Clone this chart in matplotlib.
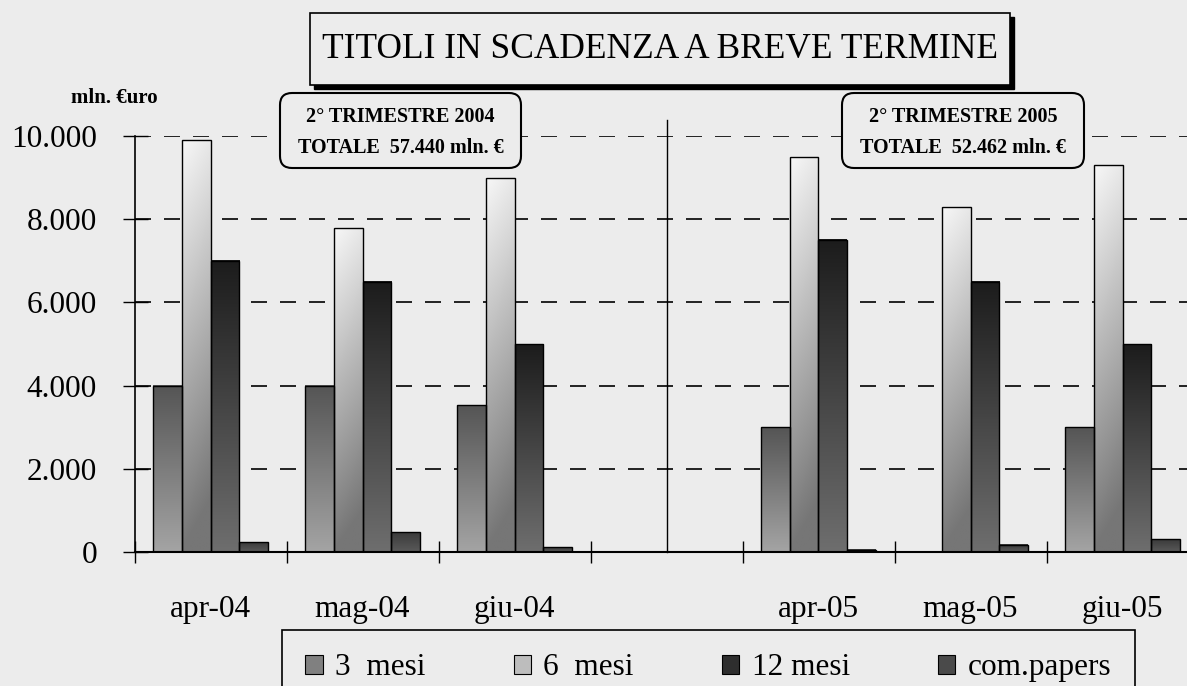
import matplotlib
matplotlib.use("Agg")
import matplotlib.pyplot as plt
import numpy as np
from matplotlib.patches import Rectangle, FancyBboxPatch, Patch
from matplotlib.colors import LinearSegmentedColormap
from matplotlib.transforms import IdentityTransform

plt.rcParams['font.family'] = ['Liberation Serif', 'DejaVu Serif']

# ---------------- data ----------------
categories = ["apr-04", "mag-04", "giu-04", "", "apr-05", "mag-05", "giu-05"]
series_names = ["3  mesi", "6  mesi", "12 mesi", "com.papers"]
mesi_3 = [4000, 4000, 3530, 0, 3000, 0, 3000]
mesi_6 = [9900, 7800, 9000, 0, 9500, 8300, 9300]
mesi_12 = [7000, 6500, 5000, 0, 7500, 6500, 5000]
com_papers = [240, 480, 120, 0, 60, 170, 310]
y_ticks = [0, 2000, 4000, 6000, 8000, 10000]
y_tick_labels = ["0", "2.000", "4.000", "6.000", "8.000", "10.000"]
title = "TITOLI IN SCADENZA A BREVE TERMINE"
unit_label = "mln. \u20acuro"
box_2004 = ["2\u00b0 TRIMESTRE 2004", "TOTALE  57.440 mln. \u20ac"]
box_2005 = ["2\u00b0 TRIMESTRE 2005", "TOTALE  52.462 mln. \u20ac"]

# ---------------- style ----------------
W, H = 1187, 686
BG = "#ececec"
# (bottom colour, top colour) gradients per series
grad_colors = [("#a4a4a4", "#555555"),
               ("#767676", "#f7f7f7"),
               ("#6e6e6e", "#1c1c1c"),
               ("#5a5a5a", "#3a3a3a")]
legend_colors = ["#808080", "#bdbdbd", "#2e2e2e", "#4a4a4a"]

fig = plt.figure(figsize=(W / 100, H / 100), dpi=100, facecolor=BG)
T = IdentityTransform()


def py(v):
    return H - v


ax = fig.add_axes([134.5 / W, (H - 552) / H, 1064 / W, 416 / H])
ax.set_facecolor(BG)

series = [mesi_3, mesi_6, mesi_12, com_papers]
x = np.arange(len(categories))
bw = 0.19
offsets = (np.arange(4) - 1.5) * bw

for k, vals in enumerate(series):
    bars = ax.bar(x + offsets[k], vals, width=bw, facecolor="none",
                  edgecolor="black", linewidth=1.0, zorder=4)
    cmap = LinearSegmentedColormap.from_list("g%d" % k, list(grad_colors[k]))
    for b in bars:
        h = b.get_height()
        if h <= 0:
            continue
        x0 = b.get_x()
        w = b.get_width()
        vert = np.linspace(0, 1, 128).reshape(-1, 1)
        horiz = np.linspace(0, 1, 16).reshape(1, -1)
        g = vert * np.ones_like(horiz)
        if k == 1:
            g = np.clip(g - 0.12 * horiz, 0, 1)
        ax.imshow(g, cmap=cmap, vmin=0, vmax=1, origin="lower",
                  extent=[x0, x0 + w, 0, h], aspect="auto",
                  interpolation="bilinear", zorder=3)

ax.set_xlim(-0.5, len(categories) - 0.5)
ax.set_ylim(0, 10000)

# separator line between the two quarters
ax.plot([3, 3], [0, 10380], color="black", lw=1.0, clip_on=False, zorder=5)

# grid
ax.set_axisbelow(True)
ax.yaxis.grid(True, color="black", lw=1.2, linestyle=(0, (9.6, 7.8)))

# spines
for s in ["top", "right"]:
    ax.spines[s].set_visible(False)
ax.spines["left"].set_linewidth(1.2)
ax.spines["bottom"].set_linewidth(1.5)
ax.spines["bottom"].set_zorder(6)

# y ticks
ax.set_yticks(y_ticks)
ax.set_yticklabels(y_tick_labels)
ax.tick_params(axis="y", direction="inout", length=18, width=1.0, pad=18,
               labelsize=22.5)

# x ticks: boundaries as marks, category names in between
ax.set_xticks(np.arange(-0.5, len(categories), 1.0))
ax.set_xticklabels([])
ax.set_xticks(x, minor=True)
ax.set_xticklabels(categories, minor=True)
ax.tick_params(axis="x", which="major", direction="inout", length=16.5, width=1.0)
ax.tick_params(axis="x", which="minor", length=0, pad=31, labelsize=22.5)

# legend
handles = [Patch(facecolor=c, edgecolor="black", linewidth=0.8, label=n)
           for c, n in zip(legend_colors, series_names)]
leg_left, leg_right, leg_top = 282, 1135, 630
leg = ax.legend(handles=handles, ncol=4, loc="upper left", mode="expand",
                bbox_to_anchor=(leg_left / W, (H - leg_top - 80) / H,
                                (leg_right - leg_left) / W, 80 / H),
                bbox_transform=fig.transFigure, fontsize=22.5,
                frameon=True, fancybox=False, edgecolor="black",
                facecolor=BG, framealpha=1, borderpad=0.75,
                handlelength=0.55, handleheight=0.6, handletextpad=0.4,
                columnspacing=2.0, borderaxespad=0)
leg.get_frame().set_linewidth(1.2)

# title box with shadow
tl, tr, tt, tb = 310, 1010, 13, 85
fig.add_artist(Rectangle((tl + 4, py(tb + 4)), tr - tl, tb - tt,
                         transform=T, facecolor="black", edgecolor="black"))
fig.add_artist(Rectangle((tl, py(tb)), tr - tl, tb - tt, transform=T,
                         facecolor=BG, edgecolor="black", linewidth=1.2))
fig.text((tl + tr) / 2, py(49), title, transform=T, ha="center",
         va="center", fontsize=25.5)

# unit label
fig.text(114, py(98), unit_label, transform=T, ha="center", va="center",
         fontsize=15, fontweight="bold")

# annotation boxes
for (bl, br), lines in [((280, 521), box_2004), ((842, 1084), box_2005)]:
    bt, bb = 93, 168
    fig.add_artist(FancyBboxPatch((bl, py(bb)), br - bl, bb - bt,
                                  boxstyle="round,pad=0,rounding_size=12",
                                  transform=T, facecolor=BG,
                                  edgecolor="black", linewidth=1.5, zorder=10))
    cx = (bl + br) / 2
    fig.text(cx, py(117), lines[0], transform=T, ha="center", va="center",
             fontsize=14.5, fontweight="bold", zorder=11)
    fig.text(cx, py(148), lines[1], transform=T, ha="center", va="center",
             fontsize=14.5, fontweight="bold", zorder=11)

fig.savefig("out.png", dpi=100, facecolor=BG)
